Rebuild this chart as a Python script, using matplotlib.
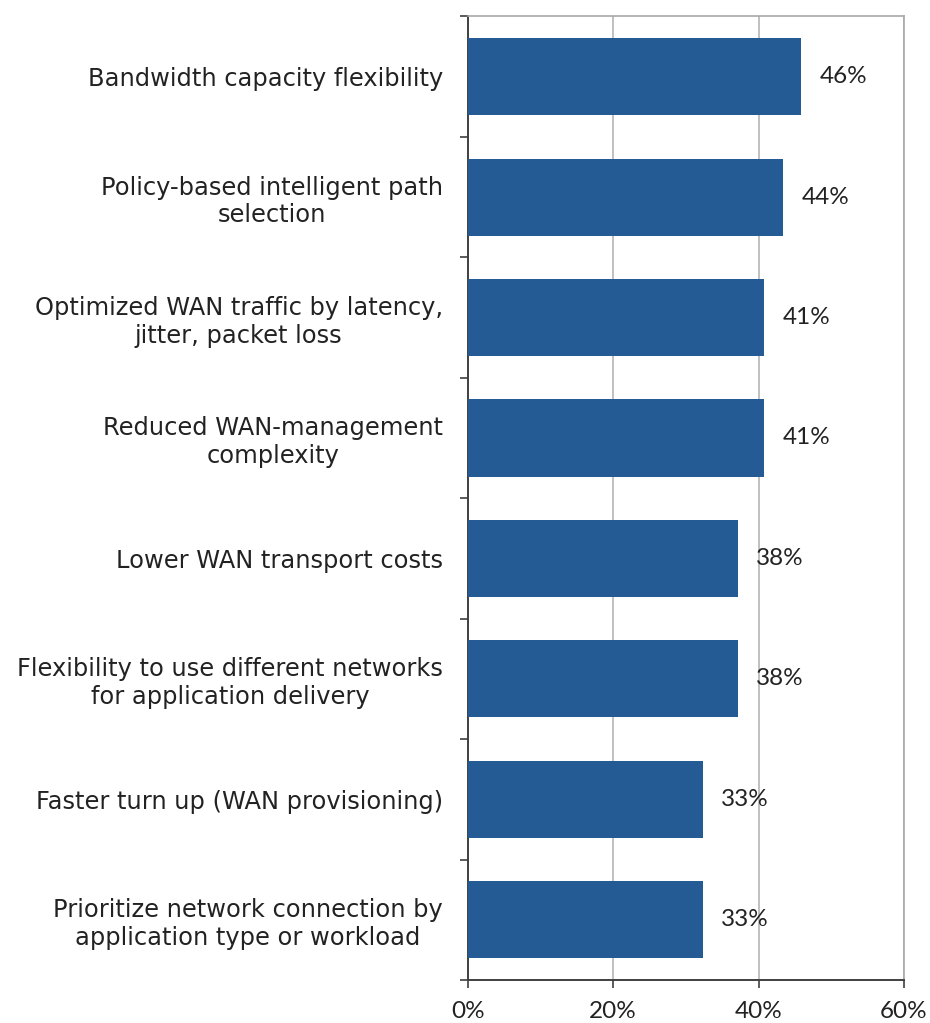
import matplotlib
matplotlib.use("Agg")
import matplotlib.pyplot as plt
import numpy as np

categories = [
    "Bandwidth capacity flexibility",
    "Policy-based intelligent path\nselection",
    "Optimized WAN traffic by latency,\njitter, packet loss",
    "Reduced WAN-management\ncomplexity",
    "Lower WAN transport costs",
    "Flexibility to use different networks\nfor application delivery",
    "Faster turn up (WAN provisioning)",
    "Prioritize network connection by\napplication type or workload",
]
values = [45.9, 43.4, 40.8, 40.8, 37.2, 37.2, 32.3, 32.3]
value_labels = ["46%", "44%", "41%", "41%", "38%", "38%", "33%", "33%"]
xticks = [0, 20, 40, 60]
xtick_labels = ["0%", "20%", "40%", "60%"]

bar_color = "#245b94"

fig = plt.figure(figsize=(9.3, 10.23), dpi=100)
ax = fig.add_axes([0.503, 0.042, 0.469, 0.942])

n = len(categories)
ypos = np.arange(n)
ax.barh(ypos, values, height=0.64, color=bar_color, zorder=3)
ax.set_ylim(n - 0.5, -0.5)
ax.set_xlim(0, 60)

ax.set_xticks(xticks)
ax.set_xticklabels(xtick_labels, fontsize=17.5, family="Lato", color="#222222")
ax.xaxis.grid(True, color="#b5b5b5", linewidth=1.2, zorder=0)
ax.tick_params(axis="x", length=6, width=1.2, color="#404040", pad=9)

ax.set_yticks(ypos)
ax.set_yticklabels(categories, fontsize=17.4, family="DejaVu Sans", color="#222222",
                   multialignment="center")
ax.tick_params(axis="y", which="major", length=0, pad=18)
ax.set_yticks(np.arange(-0.5, n + 0.5, 1), minor=True)
ax.tick_params(axis="y", which="minor", length=6, width=1.2, color="#404040")

for s in ["top", "right"]:
    ax.spines[s].set_color("#a8a8a8")
    ax.spines[s].set_linewidth(1.2)
for s in ["left", "bottom"]:
    ax.spines[s].set_color("#404040")
    ax.spines[s].set_linewidth(1.4)

for y, v, lab in zip(ypos, values, value_labels):
    ax.annotate(lab, xy=(v, y), xytext=(13, 0), textcoords="offset points",
                va="center", ha="left", fontsize=17.5, family="Lato", color="#222222", zorder=4)

fig.savefig("out.png", dpi=100)
